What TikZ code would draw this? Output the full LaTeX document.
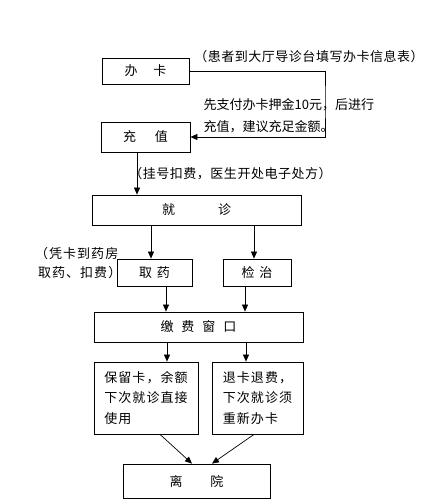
\documentclass[tikz,border=0pt]{standalone}
\usepackage{fontspec}
\setmainfont{Noto Sans CJK SC}
\newfontfamily\cjkls[LetterSpace=8]{Noto Sans CJK SC}
\newfontfamily\cjkla[LetterSpace=4]{Noto Sans CJK SC}
\usetikzlibrary{arrows.meta,calc}
\tikzset{
  box/.style={draw, line width=0.8pt, inner sep=0pt, font=\fontsize{13}{20.5}\selectfont},
  note/.style={inner sep=0pt, font=\fontsize{13}{21}\selectfont},
  arr/.style={line width=0.7pt, -{Triangle[length=7pt,width=6pt]}},
  conn/.style={line width=0.7pt}
}
\begin{document}
\begin{tikzpicture}[x=1pt,y=-1pt]
\useasboundingbox[fill=white] (0,0) rectangle (424,503);
% boxes
\node[box, minimum width=87, minimum height=26] (banka) at (145.5,71) {办\hspace{16pt}卡};
\node[box, minimum width=89, minimum height=30] (chongzhi) at (145.5,137) {充\hspace{19pt}值};
\node[box, minimum width=209, minimum height=30] (jiuzhen) at (196.5,210) {就\hspace{43pt}诊};
\node[box, minimum width=75, minimum height=27] (quyao) at (154.5,272.5) {取\hspace{5pt}药};
\node[box, minimum width=68, minimum height=27] (jianzhi) at (257,272.5) {检\hspace{5pt}治};
\node[box, minimum width=209, minimum height=30] (jiaofei) at (198.5,327) {缴\hspace{8pt}费\hspace{8pt}窗\hspace{8pt}口};
\node[box, minimum width=104, minimum height=72, align=left] (baoliu) at (146,398) {\cjkls 保留卡，余额\\\cjkls 下次就诊直接\\\cjkls 使用};
\node[box, minimum width=91, minimum height=72, align=left] (tuika) at (257.5,398) {\cjkls 退卡退费，\\\cjkls 下次就诊须\\\cjkls 重新办卡};
\node[box, minimum width=147, minimum height=34] (liyuan) at (196.5,481) {离\hspace{28pt}院};
% notes
\node[note] (n1) at (309,57) {\cjkla（患者到大厅导诊台填写办卡信息表）};
\node[note, anchor=west, align=left, font=\fontsize{13}{22}\selectfont] (n2) at (203.5,116) {先支付办卡押金10元，后进行\\充值，建议充足金额。};
\node[note] (n3) at (230.5,174) {\cjkla（挂号扣费，医生开处电子处方）};
\node[note, anchor=east] (n4) at (118.5,254) {\cjkls（凭卡到药房};
\node[note, anchor=east] (n5) at (121.5,273) {\cjkls 取药、扣费）};
% helper coordinates
\coordinate (c1) at (325,100);
\coordinate (xa) at (137,0);
\coordinate (xb) at (151,0);
\coordinate (xc) at (254,0);
\coordinate (xd) at (166,0);
\coordinate (xe) at (245,0);
\coordinate (xf) at (167,0);
\coordinate (xg) at (246,0);
\coordinate (d1) at (160,434);
\coordinate (d2) at (192,463);
\coordinate (d3) at (254,434);
\coordinate (d4) at (212,463);
% connectors
\draw[arr] (banka.east) -| (c1) |- (chongzhi.east);
\draw[arr] (chongzhi.south -| xa) -- (jiuzhen.north -| xa);
\draw[arr] (jiuzhen.south -| xb) -- (quyao.north -| xb);
\draw[arr] (jiuzhen.south -| xc) -- (jianzhi.north -| xc);
\draw[arr] (quyao.south -| xd) -- (jiaofei.north -| xd);
\draw[arr] (jianzhi.south -| xe) -- (jiaofei.north -| xe);
\draw[arr] (jiaofei.south -| xf) -- (baoliu.north -| xf);
\draw[arr] (jiaofei.south -| xg) -- (tuika.north -| xg);
\draw[arr] (baoliu.south -| d1) -- (d2 |- liyuan.north);
\draw[arr] (tuika.south -| d3) -- (d4 |- liyuan.north);
\end{tikzpicture}
\end{document}
